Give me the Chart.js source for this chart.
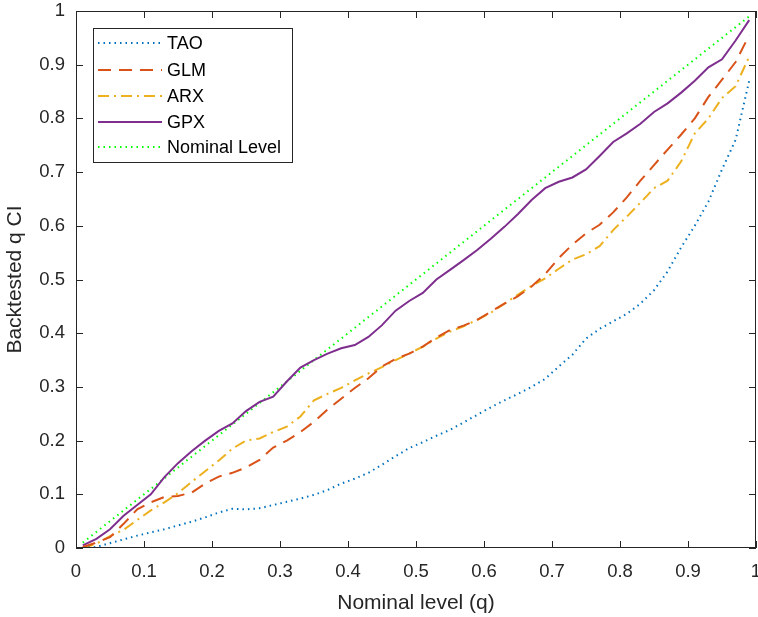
<!DOCTYPE html>
<html>
<head>
<meta charset="utf-8">
<script src="https://cdn.jsdelivr.net/npm/chart.js@4.4.0/dist/chart.umd.min.js"></script>
<style>
  html, body { margin: 0; padding: 0; background: #fff; }
</style>
</head>
<body>
<canvas id="myChart" width="758" height="617"></canvas>
<script>
// nominal levels (x)
var q = [0.01, 0.03, 0.05, 0.07, 0.09, 0.11, 0.13, 0.15, 0.17, 0.19,
         0.21, 0.23, 0.25, 0.27, 0.29, 0.31, 0.33, 0.35, 0.37, 0.39,
         0.41, 0.43, 0.45, 0.47, 0.49, 0.51, 0.53, 0.55, 0.57, 0.59,
         0.61, 0.63, 0.65, 0.67, 0.69, 0.71, 0.73, 0.75, 0.77, 0.79,
         0.81, 0.83, 0.85, 0.87, 0.89, 0.91, 0.93, 0.95, 0.97, 0.99];

var tao = [0, 0.002, 0.009, 0.016, 0.023, 0.029, 0.035, 0.042, 0.049, 0.057,
           0.066, 0.073, 0.072, 0.074, 0.080, 0.086, 0.092, 0.099, 0.108, 0.120,
           0.129, 0.140, 0.155, 0.171, 0.186, 0.197, 0.209, 0.220, 0.234, 0.248,
           0.262, 0.275, 0.287, 0.300, 0.315, 0.338, 0.360, 0.390, 0.408, 0.422,
           0.436, 0.455, 0.480, 0.515, 0.560, 0.600, 0.645, 0.705, 0.760, 0.870];

var glm = [0.002, 0.010, 0.020, 0.045, 0.072, 0.085, 0.095, 0.097, 0.103, 0.120,
           0.133, 0.140, 0.150, 0.164, 0.187, 0.200, 0.216, 0.235, 0.258, 0.278,
           0.298, 0.316, 0.338, 0.352, 0.362, 0.375, 0.392, 0.406, 0.414, 0.425,
           0.440, 0.455, 0.469, 0.487, 0.510, 0.540, 0.565, 0.586, 0.602, 0.625,
           0.653, 0.684, 0.713, 0.742, 0.770, 0.800, 0.840, 0.872, 0.905, 0.955];

var arx = [0, 0.008, 0.022, 0.034, 0.052, 0.070, 0.085, 0.102, 0.123, 0.143,
           0.163, 0.185, 0.200, 0.204, 0.216, 0.226, 0.245, 0.275, 0.287, 0.298,
           0.312, 0.325, 0.337, 0.350, 0.362, 0.375, 0.390, 0.403, 0.413, 0.425,
           0.438, 0.455, 0.472, 0.488, 0.502, 0.520, 0.537, 0.547, 0.562, 0.592,
           0.617, 0.643, 0.670, 0.684, 0.720, 0.772, 0.800, 0.838, 0.860, 0.915];

var gpx = [0.005, 0.017, 0.035, 0.060, 0.080, 0.100, 0.132, 0.158, 0.180, 0.200,
           0.218, 0.232, 0.255, 0.272, 0.282, 0.310, 0.336, 0.350, 0.362, 0.372,
           0.378, 0.393, 0.415, 0.442, 0.460, 0.475, 0.500, 0.518, 0.536, 0.555,
           0.576, 0.598, 0.622, 0.648, 0.670, 0.682, 0.690, 0.705, 0.730, 0.756,
           0.772, 0.790, 0.812, 0.828, 0.848, 0.870, 0.895, 0.910, 0.945, 0.983];

var nominal = q.slice();

var tickVals = [0, 0.1, 0.2, 0.3, 0.4, 0.5, 0.6, 0.7, 0.8, 0.9, 1];

function pts(ys) {
  return q.map(function(x, i) { return { x: x, y: ys[i] }; });
}

var FONT = 'Arial, "Liberation Sans", Helvetica, sans-serif';
var AXIS = '#262626';

// inner ticks, box and legend in MATLAB style
var matlabAxes = {
  id: 'matlabAxes',
  afterDraw: function(chart) {
    var ctx = chart.ctx, a = chart.chartArea;
    var xs = chart.scales.x, ys = chart.scales.y;
    var tl = 7;
    ctx.save();
    ctx.strokeStyle = AXIS;
    ctx.lineWidth = 1;
    ctx.beginPath();
    tickVals.forEach(function(v) {
      var px = Math.round(xs.getPixelForValue(v)) + 0.5;
      ctx.moveTo(px, a.bottom); ctx.lineTo(px, a.bottom - tl);
      ctx.moveTo(px, a.top); ctx.lineTo(px, a.top + tl);
      var py = Math.round(ys.getPixelForValue(v)) + 0.5;
      ctx.moveTo(a.left, py); ctx.lineTo(a.left + tl, py);
      ctx.moveTo(a.right, py); ctx.lineTo(a.right - tl, py);
    });
    ctx.stroke();
    ctx.strokeRect(a.left + 0.5, a.top + 0.5, a.right - a.left - 1, a.bottom - a.top - 1);

    // legend
    var lx = 93, ly = 28, lw = 199, lh = 134;
    ctx.fillStyle = '#fff';
    ctx.fillRect(lx, ly, lw, lh);
    ctx.strokeRect(lx + 0.5, ly + 0.5, lw, lh);
    ctx.font = '18px ' + FONT;
    ctx.textBaseline = 'middle';
    var rows = [43, 70, 96, 122, 147];
    chart.data.datasets.forEach(function(ds, i) {
      var y = rows[i];
      ctx.beginPath();
      ctx.setLineDash(ds.borderDash || []);
      ctx.strokeStyle = ds.borderColor;
      ctx.lineWidth = ds.borderWidth;
      ctx.moveTo(98, y); ctx.lineTo(162, y);
      ctx.stroke();
      ctx.setLineDash([]);
      ctx.fillStyle = '#000';
      ctx.fillText(ds.label, 167, y + 1);
    });
    ctx.restore();
  }
};

var ctx = document.getElementById('myChart').getContext('2d');
var myLineChart = new Chart(ctx, {
  type: 'line',
  data: {
    datasets: [
      { label: 'TAO', data: pts(tao), borderColor: '#0072BD', borderWidth: 2, borderDash: [1.5, 4] },
      { label: 'GLM', data: pts(glm), borderColor: '#D95319', borderWidth: 2, borderDash: [13, 8] },
      { label: 'ARX', data: pts(arx), borderColor: '#EDB120', borderWidth: 2, borderDash: [11, 5, 2, 5] },
      { label: 'GPX', data: pts(gpx), borderColor: '#7E2F8E', borderWidth: 2, borderDash: [] },
      { label: 'Nominal Level', data: pts(nominal), borderColor: '#00FF00', borderWidth: 2, borderDash: [1.5, 4] }
    ]
  },
  plugins: [matlabAxes],
  options: {
    responsive: false,
    animation: false,
    layout: { padding: { top: 11, right: 2, left: 0, bottom: 0 } },
    elements: { point: { radius: 0 }, line: { tension: 0, fill: false } },
    plugins: { legend: { display: false }, tooltip: { enabled: false } },
    scales: {
      x: {
        type: 'linear', min: 0, max: 1,
        afterFit: function(s) { s.height = 69; s.paddingLeft = 0; s.paddingRight = 0; },
        afterBuildTicks: function(s) { s.ticks = tickVals.map(function(v) { return { value: v }; }); },
        grid: { display: false, drawTicks: false },
        border: { display: false },
        ticks: { padding: 13, color: AXIS, font: { family: FONT, size: 18.5 },
                 callback: function(v) { return String(+v.toFixed(1)); } },
        title: { display: true, text: 'Nominal level (q)', color: AXIS,
                 font: { family: FONT, size: 21 }, padding: { top: 0, bottom: 1.5 } }
      },
      y: {
        type: 'linear', min: 0, max: 1,
        afterFit: function(s) { s.width = 76; s.paddingTop = 0; s.paddingBottom = 0; },
        afterBuildTicks: function(s) { s.ticks = tickVals.map(function(v) { return { value: v }; }); },
        grid: { display: false, drawTicks: false },
        border: { display: false },
        ticks: { padding: 11, color: AXIS, font: { family: FONT, size: 18.5 },
                 callback: function(v) { return String(+v.toFixed(1)); } },
        title: { display: true, text: 'Backtested q CI', color: AXIS,
                 font: { family: FONT, size: 21 }, padding: { top: 2.5, bottom: 0 } }
      }
    }
  }
});
</script>
</body>
</html>
